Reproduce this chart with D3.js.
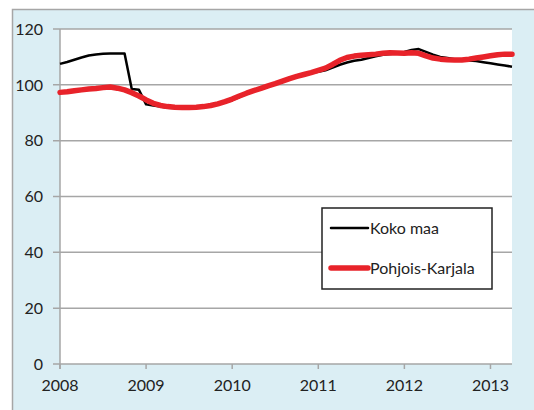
<!DOCTYPE html>
<html>
<head>
<meta charset="utf-8">
<script src="https://cdn.jsdelivr.net/npm/d3@7"></script>
<style>
  body { margin: 0; background: #fff; }
  svg text { font-family: Lato, "Open Sans", sans-serif; fill: #222; }
</style>
</head>
<body>
<svg id="chart" width="534" height="410"></svg>
<script>
// monthly index values, Jan 2008 .. Apr 2013
var kokoMaa = [107.5, 108.2, 109.0, 109.8, 110.5, 110.9, 111.1, 111.2, 111.2, 111.2, 98.5, 98.2,
  93.0, 92.6, 92.2, 91.8, 91.7, 91.7, 91.8, 91.9, 92.0, 92.4, 93.0, 93.7,
  94.5, 95.6, 96.8, 97.9, 98.8, 99.7, 100.5, 101.4, 102.3, 103.1, 103.8, 104.3,
  104.7, 105.2, 106.2, 107.2, 108.0, 108.6, 109.0, 109.6, 110.2, 110.8, 111.0, 111.3,
  111.8, 112.5, 112.8, 111.8, 110.8, 110.0, 109.6, 109.2, 109.0, 108.7, 108.5, 108.1,
  107.7, 107.3, 106.9, 106.5];
var pohjoisKarjala = [97.3, 97.5, 97.9, 98.2, 98.5, 98.7, 99.0, 99.2, 98.8, 98.2, 97.2, 96.0,
  94.6, 93.4, 92.6, 92.2, 92.0, 91.9, 91.9, 92.0, 92.2, 92.6, 93.2, 94.0,
  94.9, 96.0, 97.0, 97.9, 98.7, 99.6, 100.4, 101.3, 102.2, 103.0, 103.7, 104.4,
  105.2, 106.0, 107.3, 108.8, 109.8, 110.3, 110.6, 110.8, 111.0, 111.3, 111.5, 111.4,
  111.3, 111.5, 111.3, 110.4, 109.6, 109.2, 109.0, 108.9, 108.9, 109.2, 109.6, 110.0,
  110.4, 110.8, 111.0, 111.0];
var years = ['2008', '2009', '2010', '2011', '2012', '2013'];
var yTicks = [0, 20, 40, 60, 80, 100, 120];
var seriesNames = ['Koko maa', 'Pohjois-Karjala'];

var svg = d3.select('#chart');

// light blue chart area
svg.append('rect')
  .attr('x', 12.5).attr('y', 9.5)
  .attr('width', 540).attr('height', 420)
  .attr('fill', '#dbeef4')
  .attr('stroke', '#a6a6a6').attr('stroke-width', 1.5);

var x = d3.scaleLinear().domain([0, kokoMaa.length - 1]).range([60, 512]);
var y = d3.scaleLinear().domain([0, 120]).range([364, 29]);

// plot area
svg.append('rect')
  .attr('x', 60).attr('y', y(120))
  .attr('width', 512 - 60).attr('height', y(0) - y(120))
  .attr('fill', '#fff');

// gridlines
svg.append('g').selectAll('line')
  .data(yTicks)
  .enter().append('line')
  .attr('x1', 53).attr('x2', 512)
  .attr('y1', function(d) { return y(d); })
  .attr('y2', function(d) { return y(d); })
  .attr('stroke', '#a6a6a6').attr('stroke-width', 1.5);

// y axis line
svg.append('line')
  .attr('x1', 60).attr('x2', 60)
  .attr('y1', y(120)).attr('y2', y(0) + 5)
  .attr('stroke', '#a6a6a6').attr('stroke-width', 1.5);

// y labels
svg.append('g').selectAll('text')
  .data(yTicks)
  .enter().append('text')
  .attr('x', 43)
  .attr('y', function(d) { return y(d); })
  .attr('dy', '0.36em')
  .attr('text-anchor', 'end')
  .style('font-size', '16px')
  .text(function(d) { return d; });

// x ticks and labels
var xg = svg.append('g');
years.forEach(function(yr, i) {
  var px = x(i * 12);
  xg.append('line')
    .attr('x1', px).attr('x2', px)
    .attr('y1', y(0)).attr('y2', y(0) + 5)
    .attr('stroke', '#a6a6a6').attr('stroke-width', 1.5);
  xg.append('text')
    .attr('x', px).attr('y', 391)
    .attr('text-anchor', 'middle')
    .style('font-size', '16px')
    .text(yr);
});

var line = d3.line()
  .x(function(d, i) { return x(i); })
  .y(function(d) { return y(d); });

svg.append('path')
  .datum(kokoMaa)
  .attr('d', line)
  .attr('fill', 'none')
  .attr('stroke', '#000')
  .attr('stroke-width', 2.5)
  .attr('stroke-linejoin', 'round');

svg.append('path')
  .datum(pohjoisKarjala)
  .attr('d', line)
  .attr('fill', 'none')
  .attr('stroke', '#e8232a')
  .attr('stroke-width', 5.5)
  .attr('stroke-linejoin', 'round')
  .attr('stroke-linecap', 'round');

// legend
var legend = svg.append('g');
legend.append('rect')
  .attr('x', 322).attr('y', 208)
  .attr('width', 170).attr('height', 81)
  .attr('fill', '#fff')
  .attr('stroke', '#222').attr('stroke-width', 1.5);

var legendStyles = [{ c: '#000', w: 2.5 }, { c: '#e8232a', w: 5.5 }];
seriesNames.forEach(function(name, i) {
  var ly = 228 + i * 40;
  legend.append('line')
    .attr('x1', 331).attr('x2', 368)
    .attr('y1', ly).attr('y2', ly)
    .attr('stroke', legendStyles[i].c)
    .attr('stroke-width', legendStyles[i].w)
    .attr('stroke-linecap', 'round');
  legend.append('text')
    .attr('x', 370).attr('y', ly)
    .attr('dy', '0.36em')
    .style('font-size', '16px')
    .text(name);
});
</script>
</body>
</html>
